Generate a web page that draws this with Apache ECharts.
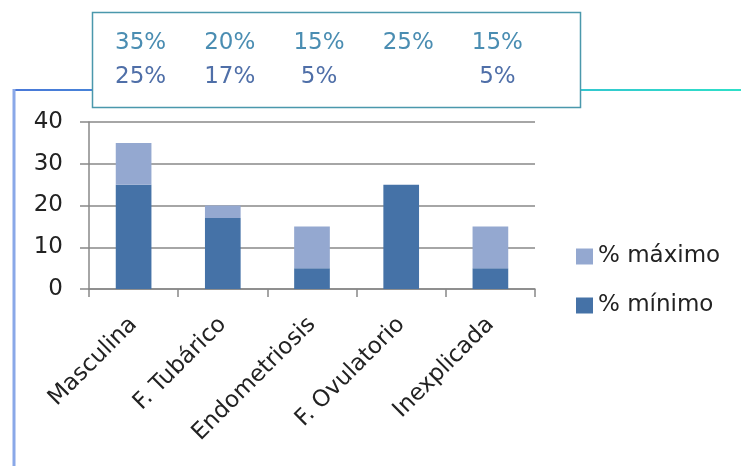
<!DOCTYPE html>
<html><head><meta charset="utf-8">
<script src="https://cdn.jsdelivr.net/npm/echarts@6/dist/echarts.min.js"></script>
<style>html,body{margin:0;padding:0;background:#fff}#c{width:741px;height:466px}</style>
</head><body><div id="c"></div>
<script>
const categories = ['Masculina', 'F. Tubárico', 'Endometriosis', 'F. Ovulatorio', 'Inexplicada'];
const minVals = [25, 17, 5, 25, 5];
const maxVals = [35, 20, 15, 25, 15];
const yTicks = [0, 10, 20, 30, 40];
const seriesNames = ['% mínimo', '% máximo'];

const FONT = 'DejaVu Sans';
const chart = echarts.init(document.getElementById('c'));
const option = {
  animation: false,
  textStyle: { fontFamily: FONT },
  grid: { left: 89, right: 206, top: 122, bottom: 177 },
  legend: {
    data: [seriesNames[1], seriesNames[0]],
    orient: 'vertical', left: 571, top: 240,
    itemWidth: 17, itemHeight: 16, itemGap: 26,
    icon: 'rect',
    textStyle: { fontFamily: FONT, fontSize: 23, color: '#222', padding: [0, 0, 0, 0] }
  },
  xAxis: {
    type: 'category', data: categories,
    axisLine: { lineStyle: { color: '#888', width: 1.5 } },
    axisTick: { show: true, length: 8, lineStyle: { color: '#888', width: 1.5 } },
    axisLabel: { rotate: 45, interval: 0, fontFamily: FONT, fontSize: 23, color: '#222', margin: 32 }
  },
  yAxis: {
    type: 'value', min: yTicks[0], max: yTicks[yTicks.length - 1], interval: 10,
    axisLine: { show: true, lineStyle: { color: '#888', width: 1.5 } },
    axisTick: { show: true, length: 9, lineStyle: { color: '#888', width: 1.5 } },
    splitLine: { lineStyle: { color: '#888', width: 1.5 } },
    axisLabel: { fontFamily: FONT, fontSize: 23, color: '#222', margin: 26 }
  },
  series: [
    { name: seriesNames[0], type: 'bar', stack: 's', barWidth: '40%', data: minVals,
      itemStyle: { color: '#4572a7' } },
    { name: seriesNames[1], type: 'bar', stack: 's', barWidth: '40%',
      data: maxVals.map((m, i) => m - minVals[i]),
      itemStyle: { color: '#94a8d0' } }
  ]
};
chart.setOption(option);

// frame & summary box
const texts = [];
categories.forEach((c, i) => {
  const x = chart.convertToPixel({ xAxisIndex: 0 }, c) + 7;
  texts.push({ type: 'text', z: 20, style: { text: maxVals[i] + '%', x: x, y: 43, align: 'center', verticalAlign: 'middle',
    font: '23px "' + FONT + '"', fill: '#4a8db2' } });
  if (minVals[i] < maxVals[i]) {
    texts.push({ type: 'text', z: 20, style: { text: minVals[i] + '%', x: x, y: 77, align: 'center', verticalAlign: 'middle',
      font: '23px "' + FONT + '"', fill: '#4f6fa8' } });
  }
});
chart.setOption({
  graphic: [
    { type: 'line', z: 5, shape: { x1: 14, y1: 90, x2: 741, y2: 90 },
      style: { lineWidth: 2, stroke: new echarts.graphic.LinearGradient(0, 0, 1, 0, [
        { offset: 0, color: '#4a78d8' }, { offset: 0.5, color: '#3aa8d8' }, { offset: 1, color: '#2ee0c8' }]) } },
    { type: 'line', z: 5, shape: { x1: 14, y1: 89, x2: 14, y2: 466 },
      style: { lineWidth: 3, stroke: '#8aa8e8' } },
    { type: 'rect', z: 10, shape: { x: 92.5, y: 12.5, width: 488, height: 95 },
      style: { fill: '#fff', stroke: '#4a98ac', lineWidth: 1.5 } }
  ].concat(texts)
});
</script></body></html>
